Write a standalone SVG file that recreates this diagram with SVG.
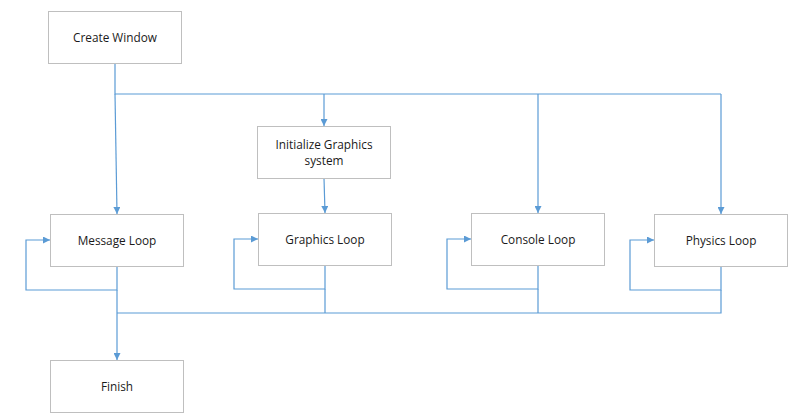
<svg xmlns="http://www.w3.org/2000/svg" width="803" height="419" viewBox="0 0 803 419">
<style>
.box{fill:#ffffff;stroke:#bfbfbf;stroke-width:1}
.lbl{font-family:"Open Sans","Noto Sans",sans-serif;font-size:11.8px;fill:#1a1a1a;text-anchor:middle}
.c{fill:none;stroke:#5b9bd5;stroke-width:1.2}
</style>
<defs>
<marker id="ah" viewBox="0 0 10 10" refX="10" refY="5" markerWidth="7" markerHeight="7" markerUnits="userSpaceOnUse" orient="auto">
<path d="M0,0 L10,5 L0,10 z" fill="#5b9bd5"/>
</marker>
</defs>
<rect width="803" height="419" fill="#ffffff"/>
<g id="connectors">
<path class="c" d="M115,63 V94 H721"/>
<path class="c" d="M115,94 L117,214" marker-end="url(#ah)"/>
<path class="c" d="M324,94 V126" marker-end="url(#ah)"/>
<path class="c" d="M324,178 L325,213" marker-end="url(#ah)"/>
<path class="c" d="M538,94 V213" marker-end="url(#ah)"/>
<path class="c" d="M721,94 V214" marker-end="url(#ah)"/>
<path class="c" d="M117,266 V290 H26 V240 H50" marker-end="url(#ah)"/>
<path class="c" d="M325,265 V289 H234 V239 H258" marker-end="url(#ah)"/>
<path class="c" d="M538,265 V289 H447 V239 H471" marker-end="url(#ah)"/>
<path class="c" d="M721,266 V290 H630 V240 H654" marker-end="url(#ah)"/>
<path class="c" d="M325,289 V313 M538,289 V313 M721,290 V313 H117"/>
<path class="c" d="M117,290 V360" marker-end="url(#ah)"/>
</g>
<g id="create-window"><rect class="box" x="48.5" y="11.5" width="133" height="52"/><text class="lbl" x="115" y="42">Create Window</text></g>
<g id="init-graphics"><rect class="box" x="257.5" y="126.5" width="133" height="52"/><text class="lbl" x="324" y="149">Initialize Graphics</text><text class="lbl" x="324" y="165">system</text></g>
<g id="message-loop"><rect class="box" x="50.5" y="214.5" width="133" height="52"/><text class="lbl" x="117" y="245">Message Loop</text></g>
<g id="graphics-loop"><rect class="box" x="258.5" y="213.5" width="133" height="52"/><text class="lbl" x="325" y="244">Graphics Loop</text></g>
<g id="console-loop"><rect class="box" x="471.5" y="213.5" width="133" height="52"/><text class="lbl" x="538" y="244">Console Loop</text></g>
<g id="physics-loop"><rect class="box" x="654.5" y="214.5" width="133" height="52"/><text class="lbl" x="721" y="245">Physics Loop</text></g>
<g id="finish"><rect class="box" x="50.5" y="360.5" width="133" height="52"/><text class="lbl" x="117" y="391">Finish</text></g>
</svg>
